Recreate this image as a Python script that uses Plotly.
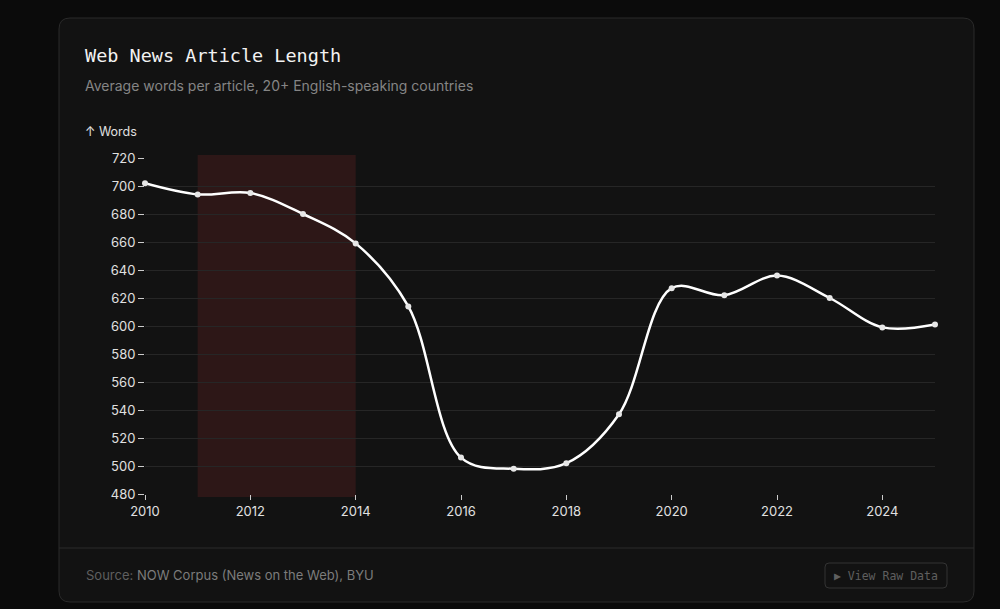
import plotly.graph_objects as go

years = list(range(2010, 2026))
words = [702, 694, 695, 680, 659, 614, 506, 498, 502, 537, 627, 622, 636, 620, 599, 601]
y_ticks = [480, 500, 520, 540, 560, 580, 600, 620, 640, 660, 680, 700, 720]
x_ticks = [2010, 2012, 2014, 2016, 2018, 2020, 2022, 2024]
shade_start, shade_end = 2011, 2014

# pixel geometry of the plot area
L, R, T, B = 145, 935, 158, 494
W, H = 1000, 609

def xp(px):
    return (px - L) / (R - L)

def yp(py):
    return (B - py) / (B - T)

def rounded_rect(x0, y0, x1, y1, r):
    rx = r / (R - L)
    ry = r / (B - T)
    X0, X1 = xp(x0), xp(x1)
    Yt, Yb = yp(y0), yp(y1)
    return (f"M {X0+rx},{Yt} L {X1-rx},{Yt} Q {X1},{Yt} {X1},{Yt-ry} "
            f"L {X1},{Yb+ry} Q {X1},{Yb} {X1-rx},{Yb} "
            f"L {X0+rx},{Yb} Q {X0},{Yb} {X0},{Yb+ry} "
            f"L {X0},{Yt-ry} Q {X0},{Yt} {X0+rx},{Yt} Z")

fig = go.Figure()
fig.add_trace(go.Scatter(
    x=years, y=words, mode="lines+markers",
    line=dict(color="#ffffff", width=2.5, shape="spline", smoothing=1.0),
    marker=dict(size=6, color="#e6e6e6"),
    cliponaxis=False, hoverinfo="x+y", showlegend=False,
))

shapes = [
    # card
    dict(type="path", xref="paper", yref="paper", path=rounded_rect(59, 18, 974, 602, 11),
         fillcolor="#121212", line=dict(color="#2a2a2a", width=1), layer="below"),
    # footer separator
    dict(type="line", xref="paper", yref="paper", x0=xp(59), x1=xp(974), y0=yp(548), y1=yp(548),
         line=dict(color="#2a2a2a", width=1), layer="below"),
    # highlight band
    dict(type="rect", xref="x", yref="paper", x0=shade_start, x1=shade_end,
         y0=yp(497), y1=yp(155), fillcolor="rgba(185,48,48,0.16)", line=dict(width=0), layer="below"),
    # button
    dict(type="path", xref="paper", yref="paper", path=rounded_rect(825, 563, 947, 588, 4),
         fillcolor="rgba(0,0,0,0)", line=dict(color="#333333", width=1), layer="above"),
]

annotations = [
    dict(text="Web News Article Length", x=xp(83), y=yp(56), xref="paper", yref="paper",
         xanchor="left", yanchor="middle", showarrow=False,
         font=dict(family="DejaVu Sans Mono", size=18.5, color="#f2f2f2")),
    dict(text="Average words per article, 20+ English-speaking countries", x=xp(83), y=yp(85),
         xref="paper", yref="paper", xanchor="left", yanchor="middle", showarrow=False,
         font=dict(family="Inter", size=14, color="#858585")),
    dict(text="↑ Words", x=xp(83), y=yp(131), xref="paper", yref="paper",
         xanchor="left", yanchor="middle", showarrow=False,
         font=dict(family="Inter", size=12.5, color="#e0e0e0")),
    dict(text="<span style='color:#5f5f5f'>Source:</span> NOW Corpus (News on the Web), BYU",
         x=xp(84), y=yp(575), xref="paper", yref="paper", xanchor="left", yanchor="middle",
         showarrow=False, font=dict(family="Inter", size=13, color="#7c7c7c")),
    dict(text="▶ View Raw Data", x=xp(886), y=yp(576), xref="paper", yref="paper",
         xanchor="center", yanchor="middle", showarrow=False,
         font=dict(family="DejaVu Sans Mono", size=11.5, color="#5f5f5f")),
]

fig.update_layout(
    width=W, height=H,
    margin=dict(l=L, r=W - R, t=T, b=H - B, autoexpand=False),
    paper_bgcolor="#0b0b0b",
    plot_bgcolor="rgba(0,0,0,0)",
    shapes=shapes,
    annotations=annotations,
    font=dict(family="Inter", color="#dddddd", size=13),
    hovermode="closest",
)
fig.update_xaxes(
    range=[2010, 2025], tickvals=x_ticks, ticktext=[str(v) for v in x_ticks],
    showgrid=False, zeroline=False, showline=False,
    ticks="outside", ticklen=5, tickwidth=1, tickcolor="#cccccc",
    tickfont=dict(family="Inter", size=13, color="#e0e0e0"), fixedrange=True,
)
fig.update_yaxes(
    range=[480, 720], tickvals=y_ticks, ticktext=[str(v) for v in y_ticks],
    showgrid=True, gridcolor="#262626", gridwidth=1, zeroline=False, showline=False,
    ticks="outside", ticklen=6, tickwidth=1, tickcolor="#cccccc",
    tickfont=dict(family="Inter", size=13, color="#e0e0e0"), fixedrange=True,
)

fig.write_html(
    "out.html",
    config={"displayModeBar": False},
    post_script="document.body.style.margin='0';document.body.style.background='#0b0b0b';document.body.style.overflow='hidden';",
)
